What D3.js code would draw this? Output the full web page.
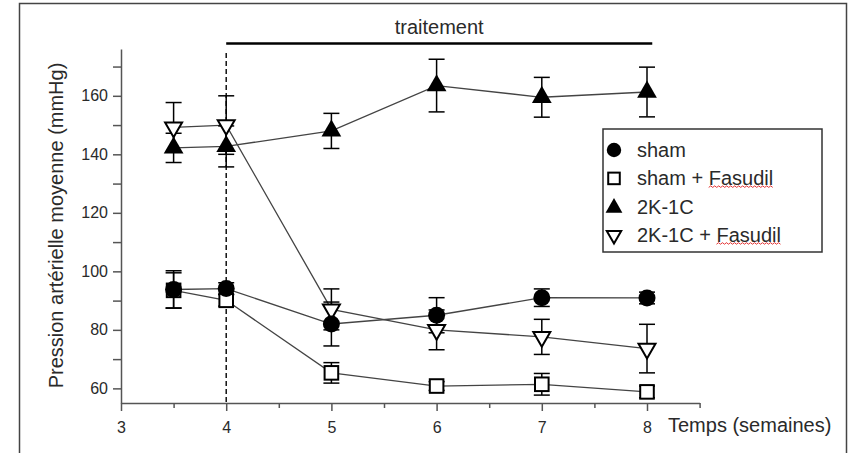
<!DOCTYPE html>
<html>
<head>
<meta charset="utf-8">
<script src="https://cdn.jsdelivr.net/npm/d3@7"></script>
<style>
  html, body { margin: 0; padding: 0; background: #fff; }
  svg { display: block; font-family: "Liberation Sans", Arial, sans-serif; }
</style>
</head>
<body>
<svg id="chart" width="850" height="453"></svg>
<script>
// ---- data ----
const weeks = [3.5, 4, 5, 6, 7, 8];
const shamVals = [93.8, 94.1, 82.0, 85.0, 91.0, 90.9];
const shamErr = [6.4, 2.0, 7.5, 6.0, 3.0, 2.0];
const shamFasVals = [93.5, 90.1, 65.3, 60.8, 61.4, 58.8];
const shamFasErr = [6.0, 2.0, 3.5, 1.5, 3.7, 2.0];
const k2c1Vals = [142.2, 142.7, 148.0, 163.5, 159.5, 161.3];
const k2c1Err = [5.0, 7.0, 6.0, 9.0, 6.8, 8.5];
const k2c1FasVals = [149.2, 150.0, 87.0, 80.0, 77.6, 73.6];
const k2c1FasErr = [8.5, 10.0, 7.0, 6.8, 6.0, 8.3];
const xTicks = [3, 4, 5, 6, 7, 8];
const xMinorTicks = [3.5, 4.5, 5.5, 6.5, 7.5, 8.5];
const yTicks = [60, 80, 100, 120, 140, 160];
const yMinorTicks = [70, 90, 110, 130, 150, 170];
const legendLabels = ["sham", "sham + Fasudil", "2K-1C", "2K-1C + Fasudil"];
const treatmentStart = 4, treatmentEnd = 8.05;

const svg = d3.select("#chart");
const x = d3.scaleLinear().domain([3, 8.5]).range([121, 699.6]);
const y = d3.scaleLinear().domain([55, 176]).range([403, 49]);
const textColor = "#2a2a2a";

// outer frame
svg.append("path")
  .attr("d", "M19.5,460 V3.5 H846.5 V460")
  .attr("fill", "none").attr("stroke", "#444").attr("stroke-width", 1.5);

const axisColor = "#555";
// y axis
const gy = svg.append("g").attr("transform", `translate(${x(3)},0)`);
gy.call(d3.axisLeft(y).tickValues(yTicks).tickFormat(d3.format("d")).tickSize(8).tickSizeOuter(0).tickPadding(5));
gy.append("g").call(d3.axisLeft(y).tickValues(yMinorTicks).tickSize(8).tickFormat("")).select(".domain").remove();
gy.selectAll("path, line").attr("stroke", axisColor).attr("stroke-width", 1.5);
gy.selectAll("text").attr("font-size", 16).attr("fill", textColor)
  .attr("font-family", '"Liberation Sans", Arial, sans-serif');

// x axis
const gx = svg.append("g").attr("transform", `translate(0,${y(55)})`);
gx.call(d3.axisBottom(x).tickValues(xTicks).tickFormat(d3.format("d")).tickSize(8).tickSizeOuter(0).tickPadding(11));
gx.append("g").call(d3.axisBottom(x).tickValues(xMinorTicks).tickSize(5).tickFormat("")).select(".domain").remove();
gx.selectAll("path, line").attr("stroke", axisColor).attr("stroke-width", 1.5);
gx.selectAll("text").attr("font-size", 16).attr("fill", textColor)
  .attr("font-family", '"Liberation Sans", Arial, sans-serif');

// axis titles
svg.append("text").attr("x", 668).attr("y", 432)
  .attr("font-size", 20).attr("fill", textColor).text("Temps (semaines)");
svg.append("text")
  .attr("transform", `translate(63,${(59 + 392) / 2}) rotate(-90)`)
  .attr("text-anchor", "middle").attr("font-size", 20).attr("fill", textColor)
  .text("Pression artérielle moyenne (mmHg)");

// treatment bar
svg.append("line")
  .attr("x1", x(treatmentStart)).attr("x2", x(treatmentEnd))
  .attr("y1", 43.5).attr("y2", 43.5)
  .attr("stroke", "#000").attr("stroke-width", 2.5);
svg.append("text").attr("x", (x(treatmentStart) + x(treatmentEnd)) / 2).attr("y", 34)
  .attr("text-anchor", "middle").attr("font-size", 20).attr("fill", textColor).text("traitement");

// dashed line at week 4
svg.append("line")
  .attr("x1", x(4)).attr("x2", x(4)).attr("y1", 53).attr("y2", y(55))
  .attr("stroke", "#000").attr("stroke-width", 1.4).attr("stroke-dasharray", "5,3");

// symbols
function drawSymbol(g, type, cx, cy, s) {
  s = s || 1;
  if (type === "circle") {
    g.append("circle").attr("cx", cx).attr("cy", cy).attr("r", 8.5 * s).attr("fill", "#000");
  } else if (type === "square") {
    const h = 6.8 * s;
    g.append("rect").attr("x", cx - h).attr("y", cy - h).attr("width", 2 * h).attr("height", 2 * h)
      .attr("fill", "#fff").attr("stroke", "#000").attr("stroke-width", 2);
  } else if (type === "tri") {
    const r = 5.7 * s;
    g.append("path").attr("d", `M${cx},${cy - 2 * r} L${cx + Math.sqrt(3) * r},${cy + r} L${cx - Math.sqrt(3) * r},${cy + r} Z`)
      .attr("fill", "#000");
  } else if (type === "itri") {
    const r = 4.9 * s;
    g.append("path").attr("d", `M${cx},${cy + 2 * r} L${cx + Math.sqrt(3) * r},${cy - r} L${cx - Math.sqrt(3) * r},${cy - r} Z`)
      .attr("fill", "#fff").attr("stroke", "#000").attr("stroke-width", 2).attr("stroke-linejoin", "miter");
  }
}

const series = [
  { vals: shamFasVals, err: shamFasErr, sym: "square" },
  { vals: k2c1FasVals, err: k2c1FasErr, sym: "itri" },
  { vals: k2c1Vals, err: k2c1Err, sym: "tri" },
  { vals: shamVals, err: shamErr, sym: "circle" }
];

const line = d3.line().x((d, i) => x(weeks[i])).y(d => y(d));
const gLines = svg.append("g");
const gErr = svg.append("g");
const gMarks = svg.append("g");

series.forEach(s => {
  gLines.append("path").attr("d", line(s.vals))
    .attr("fill", "none").attr("stroke", "#444").attr("stroke-width", 1.3);
  s.vals.forEach((v, i) => {
    const cx = x(weeks[i]);
    const g = gErr.append("g").attr("stroke", "#000").attr("stroke-width", 1.5);
    g.append("line").attr("x1", cx).attr("x2", cx).attr("y1", y(v - s.err[i])).attr("y2", y(v + s.err[i]));
    g.append("line").attr("x1", cx - 8).attr("x2", cx + 8).attr("y1", y(v - s.err[i])).attr("y2", y(v - s.err[i]));
    g.append("line").attr("x1", cx - 8).attr("x2", cx + 8).attr("y1", y(v + s.err[i])).attr("y2", y(v + s.err[i]));
  });
});
series.forEach(s => {
  s.vals.forEach((v, i) => drawSymbol(gMarks, s.sym, x(weeks[i]), y(v)));
});

// legend
const lg = svg.append("g");
lg.append("rect").attr("x", 603).attr("y", 129).attr("width", 219).attr("height", 123)
  .attr("fill", "#fff").attr("stroke", "#333").attr("stroke-width", 1.5);
const legendSyms = ["circle", "square", "tri", "itri"];
const rowY = [150, 178.4, 206.8, 235.2];
legendLabels.forEach((lab, i) => {
  drawSymbol(lg, legendSyms[i], 614, rowY[i] + (legendSyms[i] === "tri" ? 1 : 0), 0.85);
  const t = lg.append("text").attr("x", 637).attr("y", rowY[i] + 7)
    .attr("font-size", 20).attr("fill", textColor).text(lab);
  const idx = lab.indexOf("Fasudil");
  if (idx >= 0) {
    const node = t.node();
    const x0 = 637 + node.getSubStringLength(0, idx);
    const x1 = 637 + node.getSubStringLength(0, lab.length);
    let d = `M${x0},${rowY[i] + 9}`;
    let up = true;
    for (let px = x0 + 2; px <= x1; px += 2) {
      d += ` L${px},${rowY[i] + (up ? 7.5 : 9)}`;
      up = !up;
    }
    lg.append("path").attr("d", d).attr("fill", "none").attr("stroke", "#e02020").attr("stroke-width", 0.9);
  }
});
</script>
</body>
</html>
